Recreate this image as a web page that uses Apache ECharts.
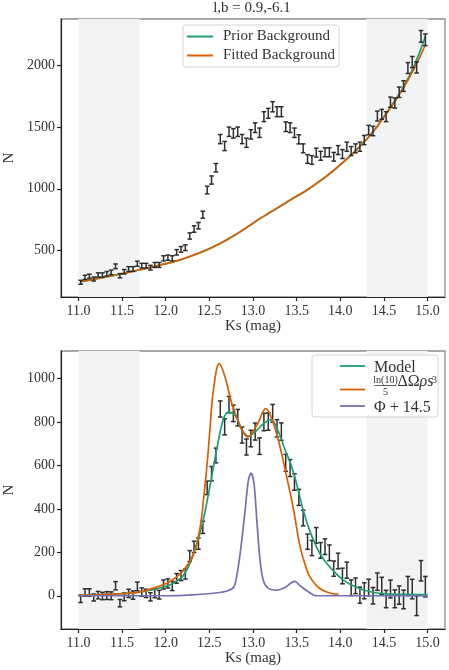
<!DOCTYPE html>
<html><head><meta charset="utf-8">
<script src="https://cdn.jsdelivr.net/npm/echarts@6/dist/echarts.min.js"></script>
<style>html,body{margin:0;padding:0;background:#fff}#c{width:449px;height:670px}</style>
</head><body><div id="c"></div>
<script>
// ---- data ----
const ksBins = [11.025,11.075,11.125,11.175,11.225,11.275,11.325,11.375,11.425,11.475,
  11.525,11.575,11.625,11.675,11.725,11.775,11.825,11.875,11.925,11.975,
  12.025,12.075,12.125,12.175,12.225,12.275,12.325,12.375,12.425,12.475,
  12.525,12.575,12.625,12.675,12.725,12.775,12.825,12.875,12.925,12.975,
  13.025,13.075,13.125,13.175,13.225,13.275,13.325,13.375,13.425,13.475,
  13.525,13.575,13.625,13.675,13.725,13.775,13.825,13.875,13.925,13.975,
  14.025,14.075,14.125,14.175,14.225,14.275,14.325,14.375,14.425,14.475,
  14.525,14.575,14.625,14.675,14.725,14.775,14.825,14.875,14.925,14.975];
const totalCounts = [245,285,293,271,304,304,314,325,374,298,
  330,352,352,395,379,379,363,385,385,438,
  444,438,487,511,524,619,675,702,791,990,
  1071,1170,1402,1346,1461,1448,1461,1402,1372,1440,
  1494,1453,1583,1610,1663,1623,1623,1502,1494,1453,
  1400,1327,1241,1233,1292,1267,1295,1295,1259,1313,
  1281,1340,1305,1327,1340,1394,1475,1467,1588,1602,
  1583,1700,1693,1780,1830,1976,2024,1981,2232,2204];
const countErr = [16,17,17,16,17,17,18,18,19,17,
  18,19,19,20,19,19,19,20,20,21,
  21,21,22,23,23,25,26,26,28,31,
  33,34,37,37,38,38,38,37,37,38,
  39,38,40,40,41,40,40,39,39,38,
  37,36,35,35,36,36,36,36,35,36,
  36,37,36,36,37,37,38,38,40,40,
  40,41,41,42,43,44,45,45,47,47];
const signalCounts = [-15,15,15,-8,3,-1,1,0,46,-34,
  -5,11,3,43,17,11,-5,11,5,52,
  57,45,80,93,100,183,225,240,315,497,
  562,646,860,778,880,840,820,740,685,724,
  756,689,800,802,840,771,756,612,588,524,
  453,358,249,220,278,209,226,198,125,160,
  91,118,37,46,3,23,38,0,65,45,
  -15,31,-14,3,-17,45,31,-46,115,42];

const bgX = [11.025,11.25,11.48,11.71,11.94,12.17,12.39,12.62,12.85,12.97,13.08,13.20,13.33,13.46,13.60,13.73,13.87,14.00,14.13,14.26,14.38,14.49,14.60,14.72,14.85,14.975];
const priorBgY = [249,279,311,346,384,427,483,557,651,707,759,811,867,923,981,1044,1117,1194,1277,1367,1465,1572,1685,1820,2000,2232];
const fittedBgY = [250,280,312,347,385,428,484,558,652,708,760,812,868,924,982,1045,1118,1195,1278,1368,1465,1570,1680,1810,1975,2164];

const modelX = [11.0,11.4,11.7,11.94,12.05,12.13,12.2,12.3,12.41,12.49,12.59,12.66,12.72,12.8,12.87,12.95,13.04,13.12,13.2,13.27,13.37,13.43,13.5,13.577,13.65,13.73,13.806,13.92,14.035,14.19,14.38,14.57,14.8,15.0];
const modelY = [3,8,17,37,51,70,92,170,315,470,685,812,846,827,765,735,761,792,810,775,669,610,515,392,300,223,169,115,72,38,15,8,6,5];

const lumX = [11.0,11.4,11.7,11.94,12.05,12.2,12.317,12.394,12.432,12.471,12.509,12.546,12.615,12.68,12.757,12.852,12.94,13.044,13.147,13.234,13.31,13.387,13.463,13.54,13.6,13.65,13.75,13.86,13.98];
const lumY = [3,8,18,46,66,115,192,315,438,592,777,946,1069,1007,885,785,731,785,862,792,685,546,400,225,140,88,38,15,6];

const phiX = [11.0,11.5,12.0,12.3,12.62,12.757,12.795,12.852,12.909,12.947,12.978,13.012,13.044,13.081,13.119,13.176,13.273,13.368,13.44,13.48,13.54,13.616,13.673,13.71,13.8,14.0,14.5,15.0];
const phiY = [0,0,0,4,15,31,54,192,392,531,565,515,346,162,69,34,26,38,60,66,46,23,8,1,0,0,0,0];

const xTicks = [11.0,11.5,12.0,12.5,13.0,13.5,14.0,14.5,15.0];
const topYTicks = [500,1000,1500,2000];
const botYTicks = [0,200,400,600,800,1000];
const shadeRanges = [[11.0,11.7],[14.3,15.0]];

// ---- chart ----
const FONT = "'Liberation Serif','DejaVu Serif',serif";
const TXT = '#333';
const C_GREEN = '#1b9e77', C_ORANGE = '#d95f02', C_PURPLE = '#7570b3';

function errRender(params, api) {
  const x = api.value(0), y = api.value(1), e = api.value(2);
  const t = api.coord([x, y + e]);
  const b = api.coord([x, y - e]);
  const cap = 2.3;
  const st = {stroke: '#2e2e2e', lineWidth: 1.5};
  return {type: 'group', children: [
    {type: 'line', shape: {x1: t[0], y1: t[1], x2: b[0], y2: b[1]}, style: st},
    {type: 'line', shape: {x1: t[0]-cap, y1: t[1], x2: t[0]+cap, y2: t[1]}, style: st},
    {type: 'line', shape: {x1: b[0]-cap, y1: b[1], x2: b[0]+cap, y2: b[1]}, style: st}
  ]};
}

function xAxisCfg(gi) {
  return {
    type: 'value', gridIndex: gi, min: 10.8, max: 15.2,
    name: 'Ks (mag)', nameLocation: 'middle', nameGap: 21,
    nameTextStyle: {fontFamily: FONT, fontSize: 15, color: TXT},
    axisLine: {show: true, onZero: false, lineStyle: {color: '#222', width: 1.2}},
    axisTick: {show: true, customValues: xTicks, length: 4, lineStyle: {color: '#222', width: 1.2}},
    axisLabel: {customValues: xTicks, formatter: v => Number(v).toFixed(1), margin: 7, fontFamily: FONT, fontSize: 14, color: TXT},
    splitLine: {show: false}
  };
}
function yAxisCfg(gi, mn, mx, ticks) {
  return {
    type: 'value', gridIndex: gi, min: mn, max: mx,
    name: 'N', nameLocation: 'middle', nameGap: 37, nameRotate: 90,
    nameTextStyle: {fontFamily: FONT, fontSize: 15, color: TXT},
    axisLine: {show: true, onZero: false, lineStyle: {color: '#222', width: 1.2}},
    axisTick: {show: true, customValues: ticks, length: 4, lineStyle: {color: '#222', width: 1.2}},
    axisLabel: {customValues: ticks, formatter: v => String(Math.round(v)), margin: 6, fontFamily: FONT, fontSize: 14, color: TXT},
    splitLine: {show: false}
  };
}
function shadeSeries(gi) {
  return {
    type: 'line', xAxisIndex: gi, yAxisIndex: gi, data: [], z: 0, silent: true,
    markArea: {silent: true, itemStyle: {color: '#f2f3f5'},
      data: shadeRanges.map(r => [{xAxis: r[0]}, {xAxis: r[1]}])}
  };
}
function lineSeries(name, gi, xs, ys, color, z, sm) {
  return {
    type: 'line', name, xAxisIndex: gi, yAxisIndex: gi, z,
    data: xs.map((x, i) => [x, ys[i]]), showSymbol: false, symbol: 'none',
    smooth: sm,
    lineStyle: {color, width: 1.7}, itemStyle: {color}, silent: true
  };
}

const gridBase = {left: 61, width: 384, height: 278, show: true, borderColor: '#8c8c8c', borderWidth: 1.3,
  backgroundColor: 'transparent', containLabel: false, outerBoundsMode: 'none'};

const LZ = 100;
const chart = echarts.init(document.getElementById('c'), null, {renderer: 'canvas'});
chart.setOption({
  animation: false,
  backgroundColor: '#fff',
  title: {text: 'l,b = 0.9,-6.1', left: 252, top: 1, textAlign: 'center', padding: 0,
    textStyle: {fontFamily: FONT, fontSize: 15, fontWeight: 'normal', color: TXT}},
  grid: [Object.assign({top: 19}, gridBase), Object.assign({top: 351}, gridBase)],
  xAxis: [xAxisCfg(0), xAxisCfg(1)],
  yAxis: [yAxisCfg(0, 126, 2372, topYTicks), yAxisCfg(1, -153, 1127, botYTicks)],
  legend: {
    data: ['Prior Background', 'Fitted Background'],
    orient: 'vertical', left: 183, top: 25,
    padding: [4, 4, 4, 4], itemGap: 4, itemWidth: 26, itemHeight: 2, icon: 'rect',
    backgroundColor: 'rgba(255,255,255,0.85)', borderColor: '#d3d3d3', borderWidth: 1, borderRadius: 3,
    textStyle: {fontFamily: FONT, fontSize: 15, color: TXT, lineHeight: 15, padding: [0, 0, 0, 5]},
    selectedMode: false
  },
  series: [
    shadeSeries(0), shadeSeries(1),
    lineSeries('Prior Background', 0, bgX, priorBgY, C_GREEN, 3, 0.5),
    lineSeries('Fitted Background', 0, bgX, fittedBgY, C_ORANGE, 4, 0.5),
    {type: 'custom', name: 'data', xAxisIndex: 0, yAxisIndex: 0, z: 5, silent: true,
      renderItem: errRender, data: ksBins.map((x, i) => [x, totalCounts[i], countErr[i]])},
    {type: 'custom', name: 'signal', xAxisIndex: 1, yAxisIndex: 1, z: 2, silent: true,
      renderItem: errRender, data: ksBins.map((x, i) => [x, signalCounts[i], countErr[i]])},
    lineSeries('Model', 1, modelX, modelY, C_GREEN, 3, 0.4),
    lineSeries('lum', 1, lumX, lumY, C_ORANGE, 4, 0.4),
    lineSeries('Phi', 1, phiX, phiY, C_PURPLE, 5, 0.3)
  ],
  graphic: [
    {type: 'rect', z: LZ, shape: {x: 312, y: 355, width: 126, height: 62, r: 3},
      style: {fill: 'rgba(255,255,255,0.85)', stroke: '#d3d3d3', lineWidth: 1}},
    {type: 'line', z: LZ+1, shape: {x1: 340, y1: 366, x2: 365, y2: 366}, style: {stroke: C_GREEN, lineWidth: 1.8}},
    {type: 'line', z: LZ+1, shape: {x1: 340, y1: 389.5, x2: 365, y2: 389.5}, style: {stroke: C_ORANGE, lineWidth: 1.8}},
    {type: 'line', z: LZ+1, shape: {x1: 340, y1: 406, x2: 365, y2: 406}, style: {stroke: C_PURPLE, lineWidth: 1.8}},
    {type: 'text', z: LZ+1, x: 374, y: 368, style: {text: 'Model', font: '16px ' + FONT, fill: TXT, verticalAlign: 'middle'}},
    {type: 'text', z: LZ+1, x: 385.5, y: 385, style: {text: 'ln(10)', font: '10px ' + FONT, fill: TXT, align: 'center', verticalAlign: 'bottom'}},
    {type: 'line', z: LZ+1, shape: {x1: 374.5, y1: 385.5, x2: 396.5, y2: 385.5}, style: {stroke: TXT, lineWidth: 0.8}},
    {type: 'text', z: LZ+1, x: 385.5, y: 387, style: {text: '5', font: '10px ' + FONT, fill: TXT, align: 'center', verticalAlign: 'top'}},
    {type: 'text', z: LZ+1, x: 397.5, y: 390, style: {text: 'ΔΩ', font: '16px ' + FONT, fill: TXT, verticalAlign: 'bottom'}},
    {type: 'text', z: LZ+1, x: 419.5, y: 390, style: {text: 'ρs', font: 'italic 16px ' + FONT, fill: TXT, verticalAlign: 'bottom'}},
    {type: 'text', z: LZ+1, x: 432, y: 375, style: {text: '3', font: '10px ' + FONT, fill: TXT, verticalAlign: 'top'}},
    {type: 'text', z: LZ+1, x: 374, y: 408, style: {text: 'Φ + 14.5', font: '16px ' + FONT, fill: TXT, verticalAlign: 'middle'}}
  ]
});
</script></body></html>
